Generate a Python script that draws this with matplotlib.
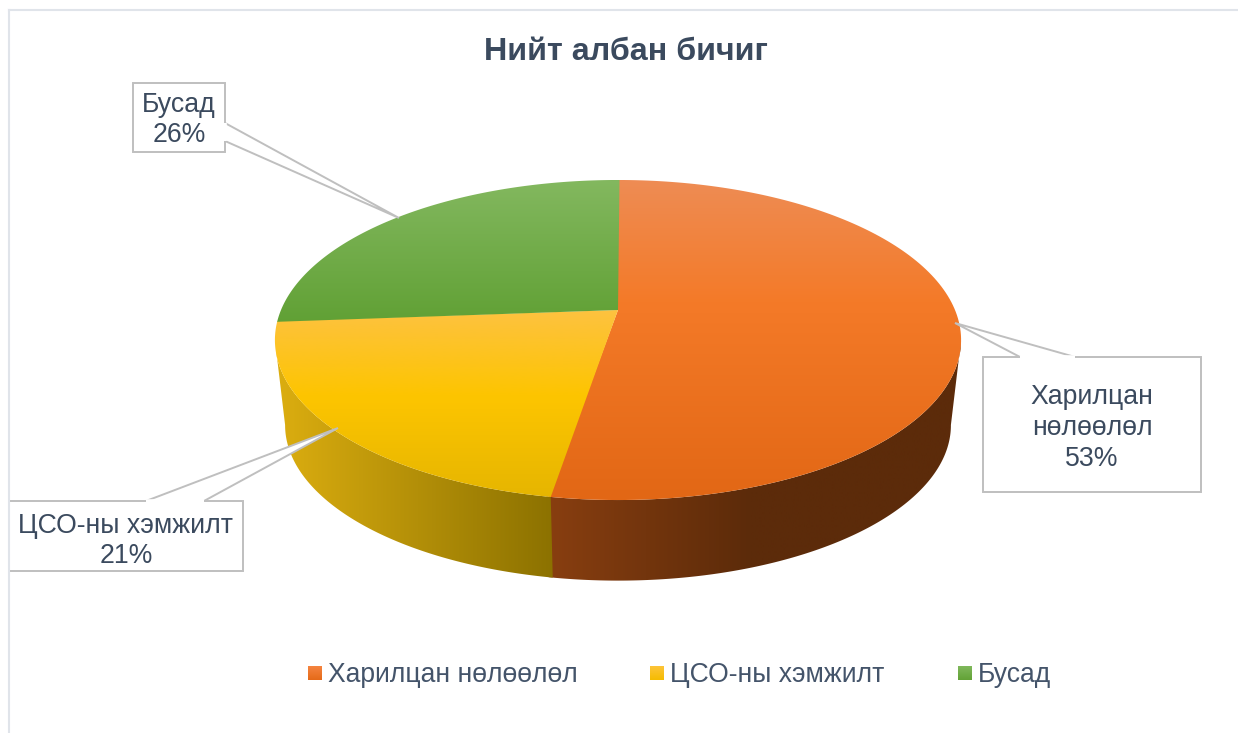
import numpy as np
import matplotlib
matplotlib.use('Agg')
import matplotlib.pyplot as plt
from matplotlib.patches import Polygon, Rectangle

plt.rcParams['font.family'] = ['Liberation Sans', 'DejaVu Sans']

TITLE = "Нийт албан бичиг"
NAMES = ["Харилцан нөлөөлөл", "ЦСО-ны хэмжилт", "Бусад"]
BOX_NAMES = ["Харилцан\nнөлөөлөл", "ЦСО-ны хэмжилт", "Бусад"]
SHARES = [52.6, 21.2, 26.2]

TEXT_COLOR = '#3b4a5e'
LINE_COLOR = '#bfbfbf'

# gradient stops per slice (position 0-1, colour)
TOP_STOPS = [
    [(0.0, '#ee8c54'), (0.38, '#f47a28'), (1.0, '#e26715')],
    [(0.0, '#fdc240'), (0.45, '#fdc500'), (1.0, '#e5b500')],
    [(0.0, '#83b85f'), (1.0, '#60a034')],
]
SIDE_STOPS = [
    [(0.0, '#8a3f10'), (0.5, '#5c2b0a'), (1.0, '#5c2b0a')],
    [(0.0, '#dcae10'), (1.0, '#8a7000')],
]
SWATCH_STOPS = [
    [(0.0, '#f58440'), (1.0, '#e56a18')],
    [(0.0, '#fdc43a'), (1.0, '#f5bc00')],
    [(0.0, '#80b85c'), (1.0, '#62a236')],
]


def hex_rgb(c):
    return np.array(matplotlib.colors.to_rgb(c))


def grad_array(stops, n=256, vertical=True):
    pos = [s[0] for s in stops]
    cols = np.array([hex_rgb(s[1]) for s in stops])
    t = np.linspace(0, 1, n)
    rgb = np.stack([np.interp(t, pos, cols[:, i]) for i in range(3)], axis=-1)
    if vertical:
        return rgb[:, None, :]
    return rgb[None, :, :]


def rim(angles, cx, cy, r, k, p=0.1875):
    # circle seen in perspective, angle clockwise from the top
    a = np.radians(angles)
    u, v = np.sin(a), np.cos(a)
    s = 1 / (1 + p * v)
    return cx + r * u * s, cy - k * v * s


def top_rim(angles):
    return rim(angles, 618, 310, 337, 154.4)


def bottom_rim(angles):
    return rim(angles, 618, 396, 327, 150)


def fill_grad(ax, verts, stops, extent, vertical=True, z=2):
    patch = Polygon(verts, closed=True, facecolor='none', edgecolor='none', zorder=z)
    ax.add_patch(patch)
    im = ax.imshow(grad_array(stops, vertical=vertical), extent=extent,
                   aspect='auto', zorder=z, interpolation='bilinear')
    im.set_clip_path(patch)


def callout(ax, box, p1, tip, p2):
    # box with a pointer cut into one edge
    x0, y0, x1, y1 = box
    ax.add_patch(Rectangle((x0, y0), x1 - x0, y1 - y0, facecolor='white',
                           edgecolor=LINE_COLOR, linewidth=1.4, zorder=5))
    ax.add_patch(Polygon([p1, tip, p2], closed=True, facecolor='white',
                         edgecolor=LINE_COLOR, linewidth=1.4, zorder=6, joinstyle='miter'))
    # hide the piece of box edge under the pointer
    ax.plot([p1[0], p2[0]], [p1[1], p2[1]], color='white', linewidth=2.6, zorder=7,
            solid_capstyle='butt')


def main():
    fig = plt.figure(figsize=(12.38, 7.33), dpi=100, facecolor='white')
    ax = fig.add_axes([0, 0, 1, 1])

    # chart area border
    ax.plot([9, 9], [733, 10], color='#e0e4ea', linewidth=1.5, zorder=7.5)
    ax.plot([9, 1238], [10, 10], color='#e0e4ea', linewidth=1.5, zorder=1)

    ax.text(626, 52, TITLE, ha='center', va='center', fontsize=23.2, fontweight='bold',
            color=TEXT_COLOR, zorder=8)

    edges = np.concatenate([[0], np.cumsum(SHARES)]) / sum(SHARES) * 360

    # side walls: each runs from the slice edge out to the widest point of the rim
    sweep = np.linspace(0, 360, 1441)
    right_top = sweep[np.argmax(top_rim(sweep)[0])]
    right_bot = sweep[np.argmax(bottom_rim(sweep)[0])]
    left_top = sweep[np.argmin(top_rim(sweep)[0])]
    left_bot = sweep[np.argmin(bottom_rim(sweep)[0])]

    tx, ty = top_rim(np.linspace(right_top, edges[1] + 0.6, 160))
    bx, by = bottom_rim(np.linspace(edges[1] + 0.6, right_bot, 160))
    fill_grad(ax, np.column_stack([np.r_[tx, bx], np.r_[ty, by]]), SIDE_STOPS[0],
              (540, 961, 590, 170), vertical=False, z=2)

    tx, ty = top_rim(np.linspace(edges[1], left_top, 160))
    bx, by = bottom_rim(np.linspace(left_bot, edges[1], 160))
    fill_grad(ax, np.column_stack([np.r_[tx, bx], np.r_[ty, by]]), SIDE_STOPS[1],
              (276, 560, 590, 170), vertical=False, z=2.1)

    # top faces, each a little past its edge so no seam shows
    top_ext = [(180, 501), (310, 501), (180, 325)]
    for i in range(len(SHARES)):
        ang = np.linspace(edges[i], edges[i + 1] + 0.3, 160)
        tx, ty = top_rim(ang)
        verts = np.column_stack([np.r_[618, tx], np.r_[310, ty]])
        y0, y1 = top_ext[i]
        fill_grad(ax, verts, TOP_STOPS[i], (270, 965, y1, y0), vertical=True, z=3 + i * 0.1)

    # data label callouts
    callout(ax, (983, 357, 1201, 492), (1075, 357), (955, 323), (1020, 357))
    callout(ax, (9, 501, 243, 571), (146, 501), (338, 428), (204, 501))
    callout(ax, (133, 83, 225, 152), (225, 123), (399, 218), (225, 141))

    pct = [f"{round(s / sum(SHARES) * 100)}%" for s in SHARES]
    label_pos = [(1092, 428), (126, 541), (179, 120)]
    for name, p, (x, y) in zip(BOX_NAMES, pct, label_pos):
        ax.text(x, y, f"{name}\n{p}", ha='center', va='center', fontsize=19.2,
                color=TEXT_COLOR, linespacing=1.23, zorder=8)

    # legend
    swatch_x = [308, 650, 958]
    for name, stops, x in zip(NAMES, SWATCH_STOPS, swatch_x):
        ax.imshow(grad_array(stops), extent=(x, x + 14, 680, 666), aspect='auto', zorder=3)
        ax.text(x + 20, 675, name, ha='left', va='center', fontsize=19.1,
                color='#44546a', zorder=8)

    ax.set_xlim(0, 1238)
    ax.set_ylim(733, 0)
    ax.axis('off')
    fig.savefig('out.png', dpi=100, facecolor='white')


if __name__ == "__main__":
    main()
